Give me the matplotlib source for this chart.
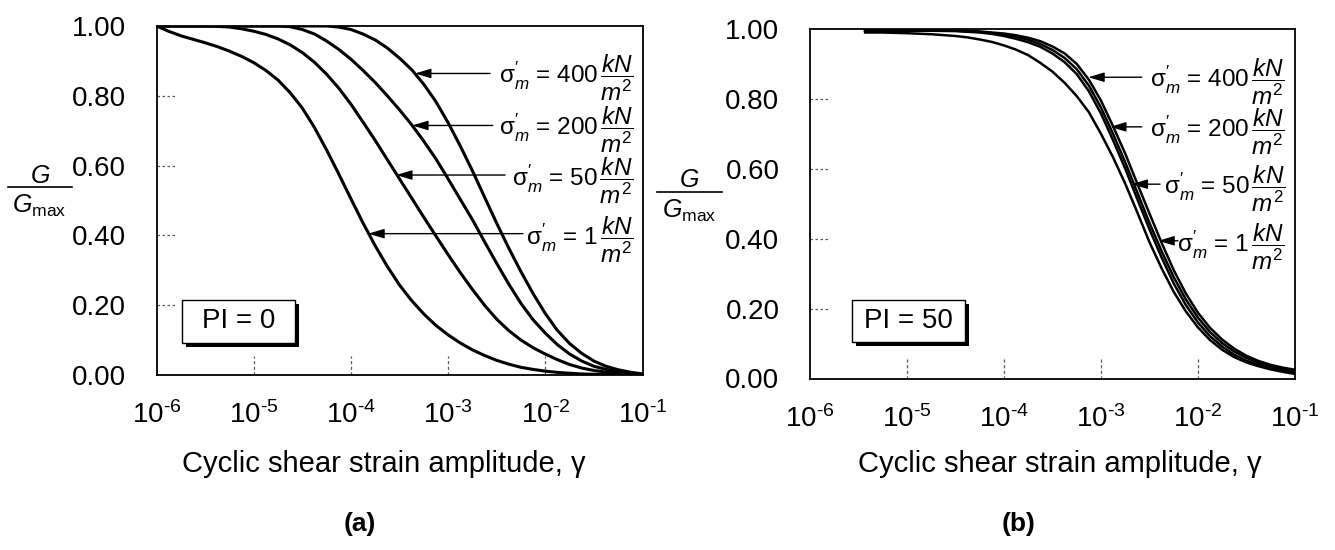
import matplotlib
matplotlib.use('Agg')
import matplotlib.pyplot as plt
from matplotlib.patches import Rectangle
from matplotlib.lines import Line2D
from matplotlib.ticker import NullLocator

plt.rcParams['font.family'] = ['Liberation Sans', 'DejaVu Sans']
plt.rcParams['mathtext.fontset'] = 'custom'
plt.rcParams['mathtext.rm'] = 'Liberation Sans'
plt.rcParams['mathtext.it'] = 'Liberation Sans:italic'
plt.rcParams['mathtext.bf'] = 'Liberation Sans:bold'
plt.rcParams['mathtext.sf'] = 'Liberation Sans'

# ---------------- data ----------------
strain_a = [1e-6, 1.33e-6, 1.78e-6, 2.37e-6, 3.16e-6, 4.22e-6, 5.62e-6, 7.5e-6,
            1e-5, 1.33e-5, 1.78e-5, 2.37e-5, 3.16e-5, 4.22e-5, 5.62e-5, 7.5e-5,
            1e-4, 1.33e-4, 1.78e-4, 2.37e-4, 3.16e-4, 4.22e-4, 5.62e-4, 7.5e-4,
            1e-3, 1.33e-3, 1.78e-3, 2.37e-3, 3.16e-3, 4.22e-3, 5.62e-3, 7.5e-3,
            1e-2, 1.33e-2, 1.78e-2, 2.37e-2, 3.16e-2, 4.22e-2, 5.62e-2, 7.5e-2, 1e-1]
g_pi0_1 = [1.000, 0.985, 0.972, 0.962, 0.952, 0.941, 0.928, 0.913, 0.895, 0.873, 0.845,
           0.809, 0.765, 0.709, 0.645, 0.576, 0.505, 0.436, 0.370, 0.311, 0.258, 0.213,
           0.175, 0.142, 0.115, 0.092, 0.072, 0.056, 0.042, 0.031, 0.022, 0.016, 0.011,
           0.0075, 0.005, 0.003, 0.002, 0.0015, 0.001, 0.0005, 0.000]
g_pi0_50 = [1.000, 1.000, 1.000, 1.000, 1.000, 0.999, 0.997, 0.992, 0.985, 0.976, 0.963,
            0.946, 0.924, 0.896, 0.862, 0.822, 0.776, 0.725, 0.672, 0.617, 0.562, 0.507,
            0.452, 0.398, 0.345, 0.294, 0.245, 0.200, 0.160, 0.127, 0.100, 0.078, 0.060,
            0.044, 0.030, 0.020, 0.013, 0.008, 0.005, 0.003, 0.001]
g_pi0_200 = [1.000, 1.000, 1.000, 1.000, 1.000, 1.000, 1.000, 1.000, 1.000, 1.000, 1.000,
             0.998, 0.990, 0.977, 0.957, 0.933, 0.905, 0.873, 0.838, 0.800, 0.760, 0.717,
             0.670, 0.619, 0.562, 0.504, 0.445, 0.382, 0.320, 0.260, 0.205, 0.158, 0.120,
             0.087, 0.060, 0.040, 0.025, 0.016, 0.009, 0.005, 0.002]
g_pi0_400 = [1.000, 1.000, 1.000, 1.000, 1.000, 1.000, 1.000, 1.000, 1.000, 1.000, 1.000,
             1.000, 1.000, 1.000, 1.000, 0.997, 0.990, 0.977, 0.960, 0.937, 0.908, 0.875,
             0.833, 0.783, 0.723, 0.657, 0.585, 0.510, 0.435, 0.363, 0.296, 0.233, 0.176,
             0.128, 0.090, 0.062, 0.040, 0.025, 0.015, 0.008, 0.003]

strain_b = [3.7e-6, 5.6e-6, 1e-5, 1.8e-5, 3.16e-5, 4.22e-5, 5.62e-5, 7.5e-5,
            1e-4, 1.33e-4, 1.78e-4, 2.37e-4, 3.16e-4, 4.22e-4, 5.62e-4, 7.5e-4,
            1e-3, 1.33e-3, 1.78e-3, 2.37e-3, 3.16e-3, 4.22e-3, 5.62e-3, 7.5e-3,
            1e-2, 1.33e-2, 1.78e-2, 2.37e-2, 3.16e-2, 4.22e-2, 5.62e-2, 7.5e-2, 1e-1]
g_pi50_1 = [0.990, 0.990, 0.988, 0.985, 0.980, 0.976, 0.970, 0.963, 0.953, 0.941, 0.925,
            0.903, 0.878, 0.846, 0.808, 0.762, 0.700, 0.633, 0.557, 0.475, 0.390, 0.315,
            0.248, 0.192, 0.146, 0.110, 0.082, 0.061, 0.046, 0.035, 0.026, 0.019, 0.013]
g_pi50_50 = [0.995, 0.995, 0.995, 0.995, 0.994, 0.992, 0.990, 0.986, 0.980, 0.972, 0.962,
             0.949, 0.930, 0.905, 0.871, 0.822, 0.758, 0.682, 0.600, 0.513, 0.427, 0.346,
             0.272, 0.210, 0.160, 0.121, 0.091, 0.068, 0.051, 0.039, 0.029, 0.022, 0.017]
g_pi50_200 = [0.995, 0.995, 0.995, 0.995, 0.995, 0.994, 0.992, 0.988, 0.984, 0.978, 0.969,
              0.957, 0.940, 0.917, 0.885, 0.838, 0.775, 0.700, 0.618, 0.532, 0.445, 0.364,
              0.290, 0.226, 0.174, 0.133, 0.101, 0.077, 0.059, 0.045, 0.035, 0.027, 0.021]
g_pi50_400 = [0.995, 0.995, 0.995, 0.995, 0.995, 0.994, 0.993, 0.990, 0.987, 0.982, 0.975,
              0.965, 0.950, 0.930, 0.900, 0.855, 0.795, 0.722, 0.643, 0.557, 0.472, 0.388,
              0.310, 0.243, 0.188, 0.145, 0.111, 0.085, 0.065, 0.050, 0.039, 0.031, 0.025]

sigma_values = ['400', '200', '50', '1']
xticks = [1e-6, 1e-5, 1e-4, 1e-3, 1e-2, 1e-1]
xtick_labels = [r'$10^{\text{-6}}$', r'$10^{\text{-5}}$', r'$10^{\text{-4}}$',
                r'$10^{\text{-3}}$', r'$10^{\text{-2}}$', r'$10^{\text{-1}}$']
yticks = [0.0, 0.2, 0.4, 0.6, 0.8, 1.0]
ytick_labels = ['0.00', '0.20', '0.40', '0.60', '0.80', '1.00']
xlabel_text = 'Cyclic shear strain amplitude, γ'
panel_labels = ['(a)', '(b)']
pi_labels = ['PI = 0', 'PI = 50']

# annotation layout: (head gamma, head G, tail gamma, text y in axes fraction)
ann_a = [(4.57e-4, 0.864, 2.70e-3, 0.852),
         (4.27e-4, 0.715, 2.88e-3, 0.702),
         (2.92e-4, 0.573, 3.85e-3, 0.557),
         (1.51e-4, 0.405, 5.89e-3, 0.388)]
ann_b = [(7.40e-4, 0.862, 2.63e-3, 0.850),
         (1.24e-3, 0.720, 2.63e-3, 0.705),
         (2.07e-3, 0.556, 4.06e-3, 0.543),
         (3.90e-3, 0.394, 6.22e-3, 0.378)]

# ---------------- figure ----------------
W, H = 1335, 550
fig = plt.figure(figsize=(W / 100, H / 100), dpi=100)


def fx(px):
    return px / W


def fy(py):
    return 1 - py / H


axA = fig.add_axes([fx(156.5), fy(375), 486 / W, 349 / H])
axB = fig.add_axes([fx(810), fy(378.5), 485 / W, 349.5 / H])


def style(ax):
    ax.set_xscale('log')
    ax.set_xlim(xticks[0], xticks[-1])
    ax.set_ylim(0, 1)
    ax.set_xticks(xticks)
    ax.set_xticklabels(xtick_labels)
    ax.xaxis.set_minor_locator(NullLocator())
    ax.set_yticks(yticks)
    ax.set_yticklabels(ytick_labels)
    ax.tick_params(axis='both', length=0)
    ax.tick_params(axis='x', pad=19, labelsize=20)
    ax.tick_params(axis='y', pad=22, labelsize=20)
    for s in ax.spines.values():
        s.set_linewidth(1.3)
    for v in yticks[1:-1]:
        ax.plot([0, 0.042], [v, v], transform=ax.get_yaxis_transform(),
                ls=(0, (2, 2)), lw=0.9, color='0.35')
    for v in xticks[1:-1]:
        ax.plot([v, v], [0, 0.055], transform=ax.get_xaxis_transform(),
                ls=(0, (2.5, 2)), lw=0.9, color='0.35')


def pibox(ax, x0, y0, x1, y1, text):
    bb = ax.get_position()
    dx = 4 / (bb.width * W)
    dy = 4 / (bb.height * H)
    ax.add_patch(Rectangle((x0 + dx, y0 - dy), x1 - x0, y1 - y0, transform=ax.transAxes,
                           facecolor='black', edgecolor='black', lw=0, zorder=5))
    ax.add_patch(Rectangle((x0, y0), x1 - x0, y1 - y0, transform=ax.transAxes,
                           facecolor='white', edgecolor='black', lw=1.0, zorder=6))
    ax.text((x0 + x1) / 2, (y0 + y1) / 2, text, transform=ax.transAxes,
            ha='center', va='center', fontsize=20, zorder=7)


def annotate(ax, anns, text_x):
    for (hx, hy, tx, ty), sv in zip(anns, sigma_values):
        ax.annotate('', xy=(hx, hy), xytext=(tx, hy),
                    arrowprops=dict(arrowstyle='-|>,head_length=0.6,head_width=0.18',
                                    mutation_scale=16, lw=1.0, color='black',
                                    shrinkA=0, shrinkB=0), zorder=8)
        label = r'$\mathrm{\sigma}^{\prime}_{m}$ = ' + sv + r'$\,\dfrac{kN}{m^2}$'
        ax.text(text_x, ty, label, transform=ax.transAxes, ha='right', va='center',
                fontsize=17.5, zorder=8)


for ax, strain, series, lw in [(axA, strain_a, [g_pi0_1, g_pi0_50, g_pi0_200, g_pi0_400], 2.2),
                               (axB, strain_b, [g_pi50_1, g_pi50_50, g_pi50_200, g_pi50_400], 1.8)]:
    style(ax)
    for g in series:
        ax.plot(strain, g, color='black', lw=lw, solid_joinstyle='round')

annotate(axA, ann_a, 0.982)
annotate(axB, ann_b, 0.98)
pibox(axA, 0.0525, 0.0917, 0.285, 0.215, pi_labels[0])
pibox(axB, 0.086, 0.105, 0.3196, 0.2246, pi_labels[1])

# x labels and panel labels
fig.text(fx(384), fy(464), xlabel_text, ha='center', va='center', fontsize=21)
fig.text(fx(1060), fy(464), xlabel_text, ha='center', va='center', fontsize=21)
fig.text(fx(360), fy(524), panel_labels[0], ha='center', va='center', fontsize=19, fontweight='bold')
fig.text(fx(1019), fy(524), panel_labels[1], ha='center', va='center', fontsize=19, fontweight='bold')

# y labels: G / Gmax
for gx, gy, bx0, bx1, by, mx, my in [(40, 176, 8, 72, 187, 39, 206),
                                      (689, 180, 657, 722, 192, 689, 211)]:
    fig.text(fx(gx), fy(gy), r'$G$', ha='center', va='center', fontsize=18)
    fig.add_artist(Line2D([fx(bx0), fx(bx1)], [fy(by), fy(by)], transform=fig.transFigure,
                          color='black', lw=1.2))
    fig.text(fx(mx), fy(my), r'$G_{\mathrm{max}}$', ha='center', va='center', fontsize=18)

fig.savefig('out.png', dpi=100, facecolor='white')
